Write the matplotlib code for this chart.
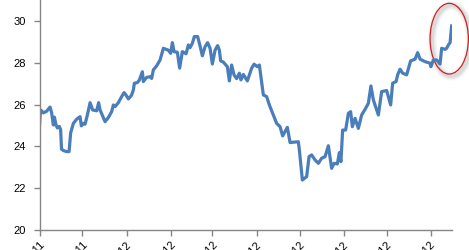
import numpy as np
import pandas as pd
import matplotlib
matplotlib.use('Agg')
import matplotlib.pyplot as plt
import matplotlib.dates as mdates
from matplotlib.patches import Ellipse

line_color = '#4a7ebb'
axis_color = '#868686'
circle_color = '#d02020'

start_date = '2011-11-01'
end_offset = 288.75  # days shown on the x axis

# days after the start date
day_offset = [
    0, 0.7, 1.5, 2.7, 5, 7.4, 8.5, 9.7, 10.4, 11.6, 12.5, 13.9, 14.8, 15.4, 16.7,
    19, 20.7, 21.8, 23.7, 26, 28.4, 29.3, 30.7, 31.9, 33.5, 35.4, 37.2, 40, 41.4,
    42.4, 45.9, 48.2, 50.5, 51.7, 52.9, 55.2, 57.5, 59.2, 60.6, 62.2, 64.5, 65.7,
    66.4, 68.5, 69.9, 72, 72.7, 75, 77.4, 78.5, 79.7, 82, 84.4, 86.7, 90.2, 91.8,
    93, 94.2, 96.5, 98.1, 100, 102.6, 104.2, 105.4, 107, 108.4, 110.7, 112.4, 114,
    115.9, 117.7, 119.4, 121, 122.9, 124.7, 125.9, 126.8, 128.7, 131.5, 132.9,
    134.5, 136.2, 138, 139.9, 141, 142.7, 145.5, 148.5, 150.2, 152.5, 153.9,
    156.7, 159, 160.9, 163.7, 166, 168.4, 170.2, 171.9, 173.5, 175.4, 177.7,
    181.2, 181.9, 184, 187, 188.7, 190.5, 192.9, 195.2, 197.5, 199.9, 202.2,
    204.5, 206.2, 208.5, 209.9, 211, 212.2, 214.3, 216.2, 217.8, 219, 220.9,
    223.2, 225.5, 228.3, 230.2, 232, 233.7, 237.2, 239.5, 243, 245.8, 247.2,
    249.6, 250.7, 252.4, 254.2, 257, 259.8, 262.9, 264.7, 266.4, 269.9, 273.4,
    274, 275.7, 278, 280.4, 281.5, 283.9, 285, 286.2, 287.4, 288.5,
]

values = [
    25.0, 25.74, 25.7, 25.6, 25.68, 25.88, 25.6, 25.02, 25.4, 25.02, 24.88, 24.95,
    24.8, 23.87, 23.8, 23.75, 23.75, 24.64, 25.1, 25.3, 25.42, 24.98, 25.1, 25.06,
    25.5, 26.09, 25.74, 25.7, 26.09, 25.74, 25.18, 25.38, 25.66, 25.98, 25.9,
    26.09, 26.38, 26.57, 26.45, 26.27, 26.45, 26.7, 27.02, 27.05, 27.17, 27.57,
    27.1, 27.3, 27.33, 27.25, 27.66, 27.85, 28.13, 28.69, 28.6, 28.45, 28.96,
    28.53, 28.5, 27.74, 28.53, 28.43, 28.85, 28.72, 28.93, 29.25, 29.25, 28.8,
    28.33, 28.77, 28.96, 28.69, 27.94, 28.6, 28.82, 28.6, 28.09, 28.03, 27.81,
    27.13, 27.89, 27.41, 27.24, 27.5, 27.18, 27.44, 27.13, 27.74, 27.93, 27.81,
    27.89, 26.46, 26.38, 25.98, 25.5, 25.1, 24.94, 24.5, 24.71, 24.91, 24.18,
    24.2, 24.22, 23.83, 22.39, 22.55, 23.51, 23.59, 23.35, 23.19, 23.43, 23.51,
    24.03, 22.95, 23.19, 23.16, 23.7, 23.27, 24.78, 24.78, 25.58, 25.66, 24.94,
    25.34, 24.86, 25.5, 25.82, 26.06, 26.89, 26.22, 25.5, 26.62, 26.67, 25.98,
    27.02, 27.1, 27.42, 27.69, 27.5, 27.42, 28.09, 28.17, 28.48, 28.17, 28.05,
    27.98, 27.81, 28.13, 28.13, 27.94, 28.69, 28.64, 28.69, 28.85, 28.96, 29.76,
]

y_ticks = [20, 22, 24, 26, 28, 30]

start = pd.Timestamp(start_date)
dates = start + pd.to_timedelta(day_offset, unit='D')

fig = plt.figure(figsize=(4.69, 2.5), dpi=100)
fig.patch.set_facecolor('white')
ax = fig.add_axes([39.5 / 469, 20 / 250, (452 - 39.5) / 469, 230 / 250])

ax.plot(dates, values, color=line_color, linewidth=2.3, solid_joinstyle='round')

ax.set_xlim(start, start + pd.Timedelta(days=end_offset))
ax.set_ylim(20, 31.0)
ax.set_yticks(y_ticks)

ax.xaxis.set_major_locator(mdates.MonthLocator())
ax.xaxis.set_major_formatter(mdates.DateFormatter('%b-%y'))

for side in ['top', 'right']:
    ax.spines[side].set_visible(False)
for side in ['left', 'bottom']:
    ax.spines[side].set_color(axis_color)
    ax.spines[side].set_linewidth(1.0)

ax.tick_params(axis='both', colors=axis_color, length=4, width=1.0, direction='out',
               labelcolor='black', labelsize=8)
ax.tick_params(axis='y', pad=5.5)
ax.tick_params(axis='x', pad=3)
for lbl in ax.get_xticklabels():
    lbl.set_rotation(45)
    lbl.set_ha('right')
    lbl.set_va('top')
    lbl.set_rotation_mode('anchor')
    lbl.set_family('Liberation Sans')
for lbl in ax.get_yticklabels():
    lbl.set_family('Liberation Sans')

# highlight around the latest jump
cx = mdates.date2num(start + pd.Timedelta(days=286.8))
cy = 29.15
w, h = 26.8, 3.38
for k, a in enumerate([0.14, 0.10, 0.07]):
    ax.add_patch(Ellipse((cx + 1.4, cy - 0.1), w, h, fill=False,
                         edgecolor='gray', linewidth=2.5 + 2 * k, alpha=a, clip_on=False))
ax.add_patch(Ellipse((cx, cy), w, h, fill=False, edgecolor=circle_color,
                     linewidth=0.9, clip_on=False))

fig.savefig('out.png', dpi=100)
